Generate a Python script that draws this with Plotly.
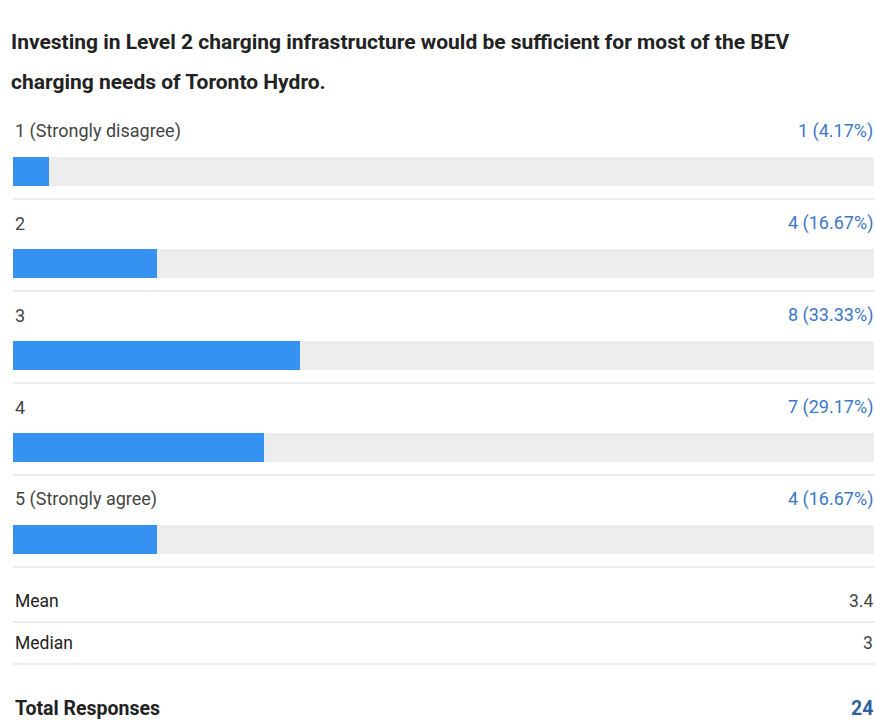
import plotly.graph_objects as go

title_lines = ["Investing in Level 2 charging infrastructure would be sufficient for most of the BEV",
               "charging needs of Toronto Hydro."]
categories = ["1 (Strongly disagree)", "2", "3", "4", "5 (Strongly agree)"]
counts = [1, 4, 8, 7, 4]
percents = [4.17, 16.67, 33.33, 29.17, 16.67]
stat_labels = ["Mean", "Median"]
stat_values = ["3.4", "3"]
total_label = "Total Responses"
total_value = 24

W, H = 875, 723
X0, X1 = 13, 874
BLUE = "#3592F0"
TRACK = "#EDEDED"
TEXT = "#444444"
VAL = "#3C78C8"
SEP = "#E6E6E6"
FONT = "Roboto"

row_label_y = [131 + i * 92 for i in range(len(categories))]
bar_center_y = [171.5 + i * 92 for i in range(len(categories))]
sep_y = [199 + i * 92 for i in range(len(categories))]

fig = go.Figure()
fig.add_trace(go.Bar(
    x=[100] * len(categories), y=bar_center_y, orientation="h", width=29,
    marker=dict(color=TRACK, line=dict(width=0)), hoverinfo="skip", showlegend=False,
))
fig.add_trace(go.Bar(
    x=percents, y=bar_center_y, orientation="h", width=29,
    marker=dict(color=BLUE, line=dict(width=0)), showlegend=False,
    customdata=categories, hovertemplate="%{customdata}: %{x:.2f}%<extra></extra>",
))

ann = []
for i, t in enumerate(title_lines):
    ann.append(dict(x=9 / W, y=[42, 82][i], xref="paper", yref="y", text="<b>" + t + "</b>",
                    showarrow=False, xanchor="left", yanchor="middle",
                    font=dict(family=FONT, size=21, color="#222222")))
for i, c in enumerate(categories):
    ann.append(dict(x=X0 / W, y=row_label_y[i], xref="paper", yref="y", text=c,
                    showarrow=False, xanchor="left", yanchor="middle",
                    font=dict(family=FONT, size=18, color=TEXT)))
    ann.append(dict(x=1, y=row_label_y[i], xref="paper", yref="y",
                    text=f"{counts[i]} ({percents[i]:.2f}%)",
                    showarrow=False, xanchor="right", yanchor="middle",
                    font=dict(family=FONT, size=18, color=VAL)))
stat_y = [601, 643]
for i, s in enumerate(stat_labels):
    ann.append(dict(x=X0 / W, y=stat_y[i], xref="paper", yref="y", text=s,
                    showarrow=False, xanchor="left", yanchor="middle",
                    font=dict(family=FONT, size=17.5, color="#222222")))
    ann.append(dict(x=1, y=stat_y[i], xref="paper", yref="y", text=stat_values[i],
                    showarrow=False, xanchor="right", yanchor="middle",
                    font=dict(family=FONT, size=17.5, color=TEXT)))
ann.append(dict(x=X0 / W, y=708, xref="paper", yref="y", text="<b>" + total_label + "</b>",
                showarrow=False, xanchor="left", yanchor="middle",
                font=dict(family=FONT, size=19.5, color="#222222")))
ann.append(dict(x=1, y=708, xref="paper", yref="y", text=f"<b>{total_value}</b>",
                showarrow=False, xanchor="right", yanchor="middle",
                font=dict(family=FONT, size=19.5, color="#2E5F9E")))

shapes = []
for yv in sep_y + [622, 664]:
    shapes.append(dict(type="line", xref="paper", yref="y", x0=X0 / W, x1=1, y0=yv, y1=yv,
                       line=dict(color=SEP, width=1.5)))

fig.update_layout(
    width=W, height=H, margin=dict(l=0, r=0, t=0, b=0),
    paper_bgcolor="white", plot_bgcolor="white",
    barmode="overlay", bargap=0,
    xaxis=dict(domain=[X0 / W, X1 / W], range=[0, 100], visible=False, fixedrange=True),
    yaxis=dict(domain=[0, 1], range=[H, 0], visible=False, fixedrange=True),
    annotations=ann, shapes=shapes,
)
fig.write_html("out.html")
